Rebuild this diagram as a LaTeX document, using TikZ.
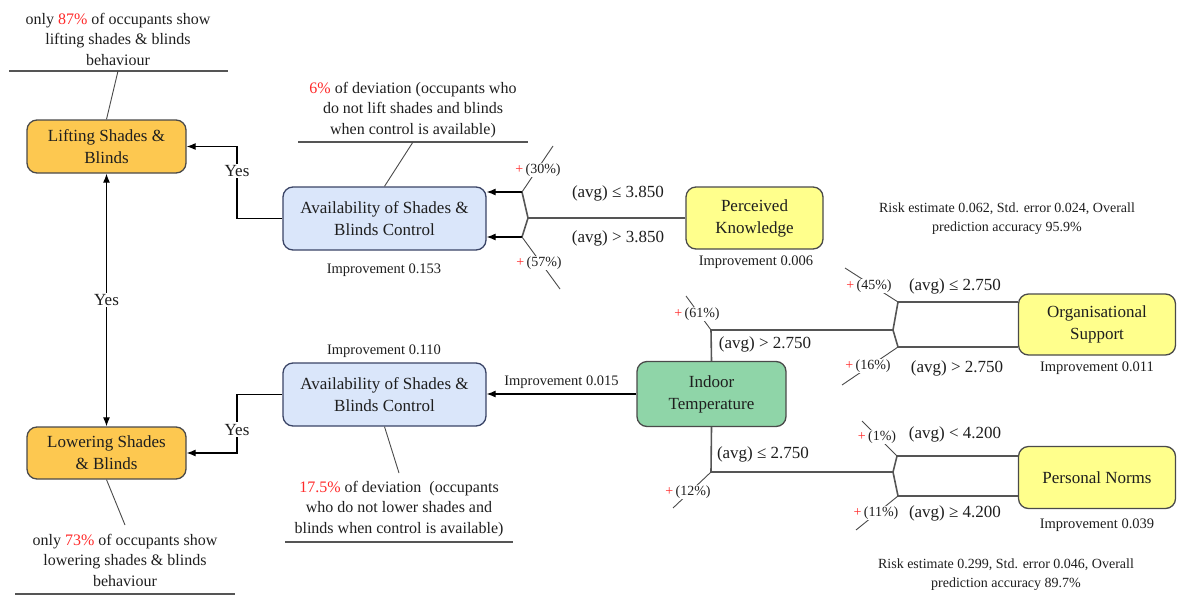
\documentclass[tikz,border=0pt]{standalone}
\usepackage{fontspec}
\setmainfont{Liberation Serif}
\usetikzlibrary{arrows.meta}
\definecolor{orangefill}{HTML}{FDC850}
\definecolor{bluefill}{HTML}{DAE6FA}
\definecolor{bluedraw}{HTML}{3A4466}
\definecolor{yellowfill}{HTML}{FFFF8C}
\definecolor{greenfill}{HTML}{8FD5A8}
\definecolor{edgegray}{HTML}{4A4A4A}
\definecolor{treegray}{HTML}{555555}
\definecolor{pctred}{HTML}{FF2A2A}
\definecolor{txt}{HTML}{1E1E1E}
\newcommand{\pct}[1]{\textcolor{pctred}{+}\,(#1\%)}
\begin{document}
\begin{tikzpicture}[x=1pt,y=-1pt,
  every node/.style={text=txt},
  box/.style={draw=edgegray, line width=1.3pt, rounded corners=10pt, align=center,
    inner sep=0pt, font=\fontsize{17}{22}\selectfont},
  outcome/.style={box, fill=orangefill},
  avail/.style={box, fill=bluefill, draw=bluedraw},
  factor/.style={box, fill=yellowfill},
  rootbox/.style={box, fill=greenfill},
  arrowline/.style={draw=black, line width=1.1pt, -{Latex[length=9pt,width=7pt]}},
  twoway/.style={draw=black, line width=1.1pt, {Latex[length=9pt,width=7pt]}-{Latex[length=9pt,width=7pt]}},
  treeline/.style={draw=treegray, line width=1.6pt},
  tickline/.style={draw=edgegray, line width=0.9pt},
  baseline/.style={draw=treegray, line width=2pt},
  cond/.style={font=\fontsize{17}{20}\selectfont, fill=white, inner sep=1pt},
  pctlabel/.style={font=\fontsize{14}{16}\selectfont, fill=white, inner sep=1pt},
  improv/.style={font=\fontsize{14.5}{17}\selectfont, inner sep=0pt},
  risk/.style={font=\fontsize{14}{19}\selectfont, align=center, inner sep=0pt},
  note/.style={font=\fontsize{16}{20.5}\selectfont, align=center, inner sep=0pt},
  yeslabel/.style={font=\fontsize{17}{20}\selectfont, fill=white, inner sep=1.5pt}
]
\useasboundingbox (0,0) rectangle (1177,597);

% ---- boxes ----
\node[outcome, minimum width=159pt, minimum height=53pt] (lift) at (106.5,146.5) {Lifting Shades \&\\Blinds};
\node[outcome, minimum width=159pt, minimum height=52pt] (lower) at (106.5,453) {Lowering Shades\\\& Blinds};
\node[avail, minimum width=203pt, minimum height=63pt] (av1) at (384.5,218.5) {Availability of Shades \&\\Blinds Control};
\node[avail, minimum width=203pt, minimum height=63pt] (av2) at (384.5,394.5) {Availability of Shades \&\\Blinds Control};
\node[factor, minimum width=137pt, minimum height=62pt] (pk) at (754.5,218) {Perceived\\Knowledge};
\node[rootbox, minimum width=149pt, minimum height=65pt] (it) at (711.5,394) {Indoor\\Temperature};
\node[factor, minimum width=157pt, minimum height=61pt] (org) at (1097,324.5) {Organisational\\Support};
\node[factor, minimum width=157pt, minimum height=62pt] (pn) at (1097,477.5) {Personal Norms};

% ---- outcome links ----
\draw[twoway] (lift.south) -- node[yeslabel] {Yes} (lower.north);
\draw[arrowline] (av1.west) -- (237,218.5) |- node[yeslabel, pos=0.33] {Yes} (lift.east);
\draw[arrowline] (av2.west) -- (237,394.5) |- node[yeslabel, pos=0.3] {Yes} (lower.east);

% ---- Perceived Knowledge split ----
\coordinate (pks) at (528,218);
\coordinate (pku) at (522,192);
\coordinate (pkd) at (522,237);
\draw[treeline] (pk.west) -- (pks);
\draw[treeline] (pks) -- (pku);
\draw[treeline] (pks) -- (pkd);
\draw[arrowline] (pku) -- (pku -| av1.east);
\draw[arrowline] (pkd) -- (pkd -| av1.east);
\coordinate (pkut) at (553,146);
\coordinate (pkdt) at (560,289);
\draw[tickline] (pku) -- (pkut);
\draw[tickline] (pkd) -- (pkdt);
\node[pctlabel] at (538,170) {\pct{30}};
\node[pctlabel] at (539,263) {\pct{57}};
\node[cond] at (618,193) {(avg) ≤ 3.850};
\node[cond] at (618,238) {(avg) > 3.850};

% ---- Indoor Temperature splits ----
\coordinate (ita) at (711,330);
\coordinate (its) at (893,330);
\coordinate (itu) at (898,302);
\coordinate (itl) at (898,347);
\draw[treeline] (it.north) -- (ita) -- (its);
\draw[treeline] (its) -- (itu) -- (itu -| org.west);
\draw[treeline] (its) -- (itl) -- (itl -| org.west);

\coordinate (itb) at (711,472);
\coordinate (itbs) at (893,472);
\coordinate (itbu) at (897,456);
\coordinate (itbl) at (898,496);
\draw[treeline] (it.south) -- (itb) -- (itbs);
\draw[treeline] (itbs) -- (itbu) -- (itbu -| pn.west);
\draw[treeline] (itbs) -- (itbl) -- (itbl -| pn.west);

\draw[arrowline] (it.west) -- node[improv, above=5pt] {Improvement 0.015} (it.west -| av2.east);

% tick marks with shares
\draw[tickline] (ita) -- (686,296);
\node[pctlabel] at (697,314) {\pct{61}};
\draw[tickline] (itb) -- (673,508);
\node[pctlabel] at (688,492) {\pct{12}};
\draw[tickline] (itu) -- (845,268);
\node[pctlabel] at (869,286) {\pct{45}};
\draw[tickline] (itl) -- (842,385);
\node[pctlabel] at (868,366) {\pct{16}};
\draw[tickline] (itbu) -- (862,421);
\node[pctlabel] at (877,437) {\pct{1}};
\draw[tickline] (itbl) -- (856,530);
\node[pctlabel] at (876,513) {\pct{11}};

\node[cond] at (765,344) {(avg) > 2.750};
\node[cond] at (763,454) {(avg) ≤ 2.750};
\node[cond] at (955,286) {(avg) ≤ 2.750};
\node[cond] at (957,368) {(avg) > 2.750};
\node[cond] at (955,434) {(avg) < 4.200};
\node[cond] at (955,513) {(avg) ≥ 4.200};

% ---- improvement and fit statistics ----
\node[improv] at (384,270) {Improvement 0.153};
\node[improv] at (384,351) {Improvement 0.110};
\node[improv] at (756,262) {Improvement 0.006};
\node[improv] at (1097,368) {Improvement 0.011};
\node[improv] at (1097,525) {Improvement 0.039};
\node[risk] at (1007,219) {Risk estimate 0.062, Std. error 0.024, Overall\\prediction accuracy 95.9\%};
\node[risk] at (1006,575) {Risk estimate 0.299, Std. error 0.046, Overall\\prediction accuracy 89.7\%};

% ---- annotations ----
\node[note] (n1) at (118,39) {only \textcolor{pctred}{87\%} of occupants show\\lifting shades \& blinds\\behaviour};
\coordinate (n1a) at (9,71);
\coordinate (n1b) at (228,71);
\coordinate (n1c) at (118,71);
\draw[baseline] (n1a) -- (n1b);
\draw[tickline] (n1c) -- (lift.north);

\node[note] (n2) at (413,110) {\textcolor{pctred}{6\%} of deviation (occupants who\\do not lift shades and blinds\\when control is available)};
\coordinate (n2a) at (298,142);
\coordinate (n2b) at (528,142);
\coordinate (n2c) at (413,142);
\draw[baseline] (n2a) -- (n2b);
\draw[tickline] (n2c) -- (av1.north);

\node[note] (n3) at (399,509) {\textcolor{pctred}{17.5\%} of deviation\ \ (occupants\\who do not lower shades and\\blinds when control is available)};
\coordinate (n3a) at (285,542);
\coordinate (n3b) at (513,542);
\coordinate (n3c) at (399,473);
\draw[baseline] (n3a) -- (n3b);
\draw[tickline] (av2.south) -- (n3c);

\node[note] (n4) at (125,560) {only \textcolor{pctred}{73\%} of occupants show\\lowering shades \& blinds\\behaviour};
\coordinate (n4a) at (15,594);
\coordinate (n4b) at (235,594);
\coordinate (n4c) at (125,525);
\draw[baseline] (n4a) -- (n4b);
\draw[tickline] (lower.south) -- (n4c);
\end{tikzpicture}
\end{document}
